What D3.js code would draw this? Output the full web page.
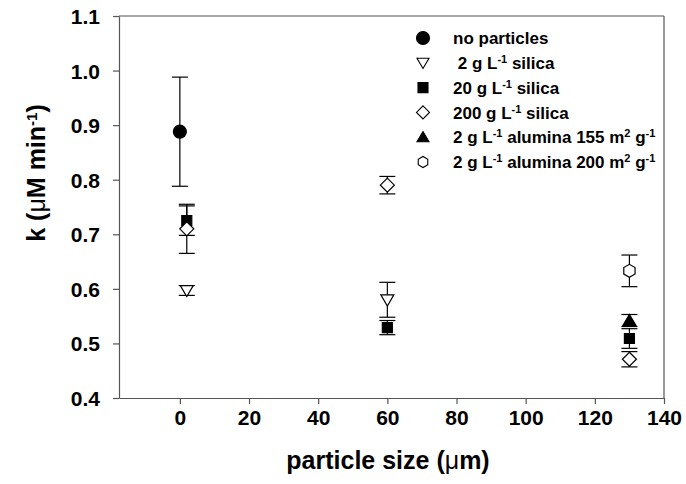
<!DOCTYPE html>
<html>
<head>
<meta charset="utf-8">
<script src="https://cdn.jsdelivr.net/npm/d3@7"></script>
<style>
  html, body { margin: 0; padding: 0; background: #fff; }
  svg { display: block; font-family: "Liberation Sans", Arial, sans-serif; }
</style>
</head>
<body>
<svg id="chart" width="686" height="484"></svg>
<script>
// ---- data ----
const seriesNames = ["no particles", "2 g L-1 silica", "20 g L-1 silica", "200 g L-1 silica",
                     "2 g L-1 alumina 155 m2 g-1", "2 g L-1 alumina 200 m2 g-1"];
const noParticlesX = [0];
const noParticlesY = [0.888];
const noParticlesErr = [0.100];

const silica2X = [2, 60];
const silica2Y = [0.597, 0.580];
const silica2Err = [0.009, 0.032];

const silica20X = [2, 60, 130];
const silica20Y = [0.725, 0.529, 0.509];
const silica20Err = [0.027, 0.013, 0.018];

const silica200X = [2, 60, 130];
const silica200Y = [0.710, 0.790, 0.471];
const silica200Err = [0.045, 0.016, 0.014];

const alumina155X = [130];
const alumina155Y = [0.542];
const alumina155Err = [0.011];

const alumina200X = [130];
const alumina200Y = [0.633];
const alumina200Err = [0.029];

const xTicks = [0, 20, 40, 60, 80, 100, 120, 140];
const yTicks = [0.4, 0.5, 0.6, 0.7, 0.8, 0.9, 1.0, 1.1];

// ---- layout ----
const svg = d3.select("#chart");
const pLeft = 119, pRight = 664, pTop = 16, pBottom = 398;
const x = d3.scaleLinear().domain([-17.6, 140]).range([pLeft, pRight]);
const y = d3.scaleLinear().domain([0.4, 1.1]).range([pBottom, pTop]);
const axisColor = "#555";

// marker shapes
function shapePath(kind, r) {
  switch (kind) {
    case "circle": return d3.symbol(d3.symbolCircle, Math.PI * r * r)();
    case "square": return `M${-r},${-r}H${r}V${r}H${-r}Z`;
    case "diamond": return `M0,${-r}L${r},0L0,${r}L${-r},0Z`;
    case "triDown": return `M${-r},${-r * 0.75}H${r}L0,${r * 0.95}Z`;
    case "triUp": return `M${-r},${r * 0.75}H${r}L0,${-r * 0.95}Z`;
    case "hexagon": {
      const pts = d3.range(6).map(i => {
        const a = Math.PI / 6 + i * Math.PI / 3;
        return [r * Math.cos(a), r * Math.sin(a)];
      });
      return "M" + pts.map(p => p.join(",")).join("L") + "Z";
    }
  }
}

const series = [
  { xs: noParticlesX, ys: noParticlesY, es: noParticlesErr, kind: "circle", fill: "#000", r: 6.5 },
  { xs: silica2X, ys: silica2Y, es: silica2Err, kind: "triDown", fill: "#fff", r: 6.5 },
  { xs: silica20X, ys: silica20Y, es: silica20Err, kind: "square", fill: "#000", r: 5 },
  { xs: silica200X, ys: silica200Y, es: silica200Err, kind: "diamond", fill: "#fff", r: 7 },
  { xs: alumina155X, ys: alumina155Y, es: alumina155Err, kind: "triUp", fill: "#000", r: 6.5 },
  { xs: alumina200X, ys: alumina200Y, es: alumina200Err, kind: "hexagon", fill: "#fff", r: 6.5 }
];

// ---- frame ----
svg.append("line").attr("x1", pLeft).attr("x2", pRight).attr("y1", pTop).attr("y2", pTop)
  .attr("stroke", axisColor).attr("stroke-width", 1.2);
svg.append("line").attr("x1", pRight).attr("x2", pRight).attr("y1", pTop).attr("y2", pBottom)
  .attr("stroke", axisColor).attr("stroke-width", 1.2);

const xAxis = svg.append("g").attr("transform", `translate(0,${pBottom})`)
  .call(d3.axisBottom(x).tickValues(xTicks).tickSize(6).tickSizeOuter(0).tickPadding(6).tickFormat(d3.format("d")));
const yAxis = svg.append("g").attr("transform", `translate(${pLeft},0)`)
  .call(d3.axisLeft(y).tickValues(yTicks).tickSize(6).tickSizeOuter(0).tickPadding(13).tickFormat(d3.format(".1f")));
[xAxis, yAxis].forEach(g => {
  g.select(".domain").attr("stroke", axisColor).attr("stroke-width", 1.2);
  g.selectAll(".tick line").attr("stroke", axisColor).attr("stroke-width", 1.2);
  g.selectAll(".tick text").attr("fill", "#000").style("font-size", "21px").style("font-weight", "bold");
});
yAxis.selectAll(".tick text").attr("dy", "0.36em");

// ---- error bars & markers ----
const capHalf = 8;
series.forEach(s => {
  const g = svg.append("g");
  s.xs.forEach((xv, i) => {
    const cx = x(xv), yt = y(s.ys[i] + s.es[i]), yb = y(s.ys[i] - s.es[i]);
    g.append("line").attr("x1", cx).attr("x2", cx).attr("y1", yt).attr("y2", yb).attr("stroke", "#000").attr("stroke-width", 1.2);
    g.append("line").attr("x1", cx - capHalf).attr("x2", cx + capHalf).attr("y1", yt).attr("y2", yt).attr("stroke", "#000").attr("stroke-width", 1.2);
    g.append("line").attr("x1", cx - capHalf).attr("x2", cx + capHalf).attr("y1", yb).attr("y2", yb).attr("stroke", "#000").attr("stroke-width", 1.2);
  });
  g.selectAll("path").data(s.xs).join("path")
    .attr("transform", (d, i) => `translate(${x(d)},${y(s.ys[i])})`)
    .attr("d", shapePath(s.kind, s.r))
    .attr("fill", s.fill).attr("stroke", "#000").attr("stroke-width", 1.2);
});

// ---- legend ----
const legend = svg.append("g");
const legX = 423, legTextX = 453, legY0 = 38, legDy = 24.8;
const legendLabels = [
  [["no particles", false]],
  [["\u00a02 g L", false], ["-1", true], [" silica", false]],
  [["20 g L", false], ["-1", true], [" silica", false]],
  [["200 g L", false], ["-1", true], [" silica", false]],
  [["2 g L", false], ["-1", true], [" alumina 155 m", false], ["2", true], [" g", false], ["-1", true]],
  [["2 g L", false], ["-1", true], [" alumina 200 m", false], ["2", true], [" g", false], ["-1", true]]
];
const legendR = [6.5, 6, 5, 6.5, 6, 5.5];
series.forEach((s, i) => {
  const ly = legY0 + i * legDy;
  legend.append("path").attr("transform", `translate(${legX},${ly})`)
    .attr("d", shapePath(s.kind, legendR[i]))
    .attr("fill", s.fill).attr("stroke", "#000").attr("stroke-width", 1.1);
  const t = legend.append("text").attr("x", legTextX).attr("y", ly).attr("dy", "0.36em")
    .style("font-size", "17px").style("font-weight", "bold").attr("fill", "#000");
  legendLabels[i].forEach(([txt, sup]) => {
    const ts = t.append("tspan").text(txt);
    if (sup) ts.attr("baseline-shift", "super").style("font-size", "11px");
  });
});

// ---- axis titles ----
const xt = svg.append("text").attr("x", 388).attr("y", 469).attr("text-anchor", "middle")
  .style("font-size", "25px").style("font-weight", "bold").attr("fill", "#000");
xt.append("tspan").text("particle size (");
xt.append("tspan").text("\u03bc").style("font-weight", "normal");
xt.append("tspan").text("m)");

const ytl = svg.append("text").attr("transform", "translate(45,173) rotate(-90)").attr("text-anchor", "middle")
  .style("font-size", "25px").style("font-weight", "bold").attr("fill", "#000");
ytl.append("tspan").text("k (");
ytl.append("tspan").text("\u03bc").style("font-weight", "normal");
ytl.append("tspan").text("M min");
ytl.append("tspan").text("-1").attr("baseline-shift", "super").style("font-size", "15px");
ytl.append("tspan").text(")");
</script>
</body>
</html>
